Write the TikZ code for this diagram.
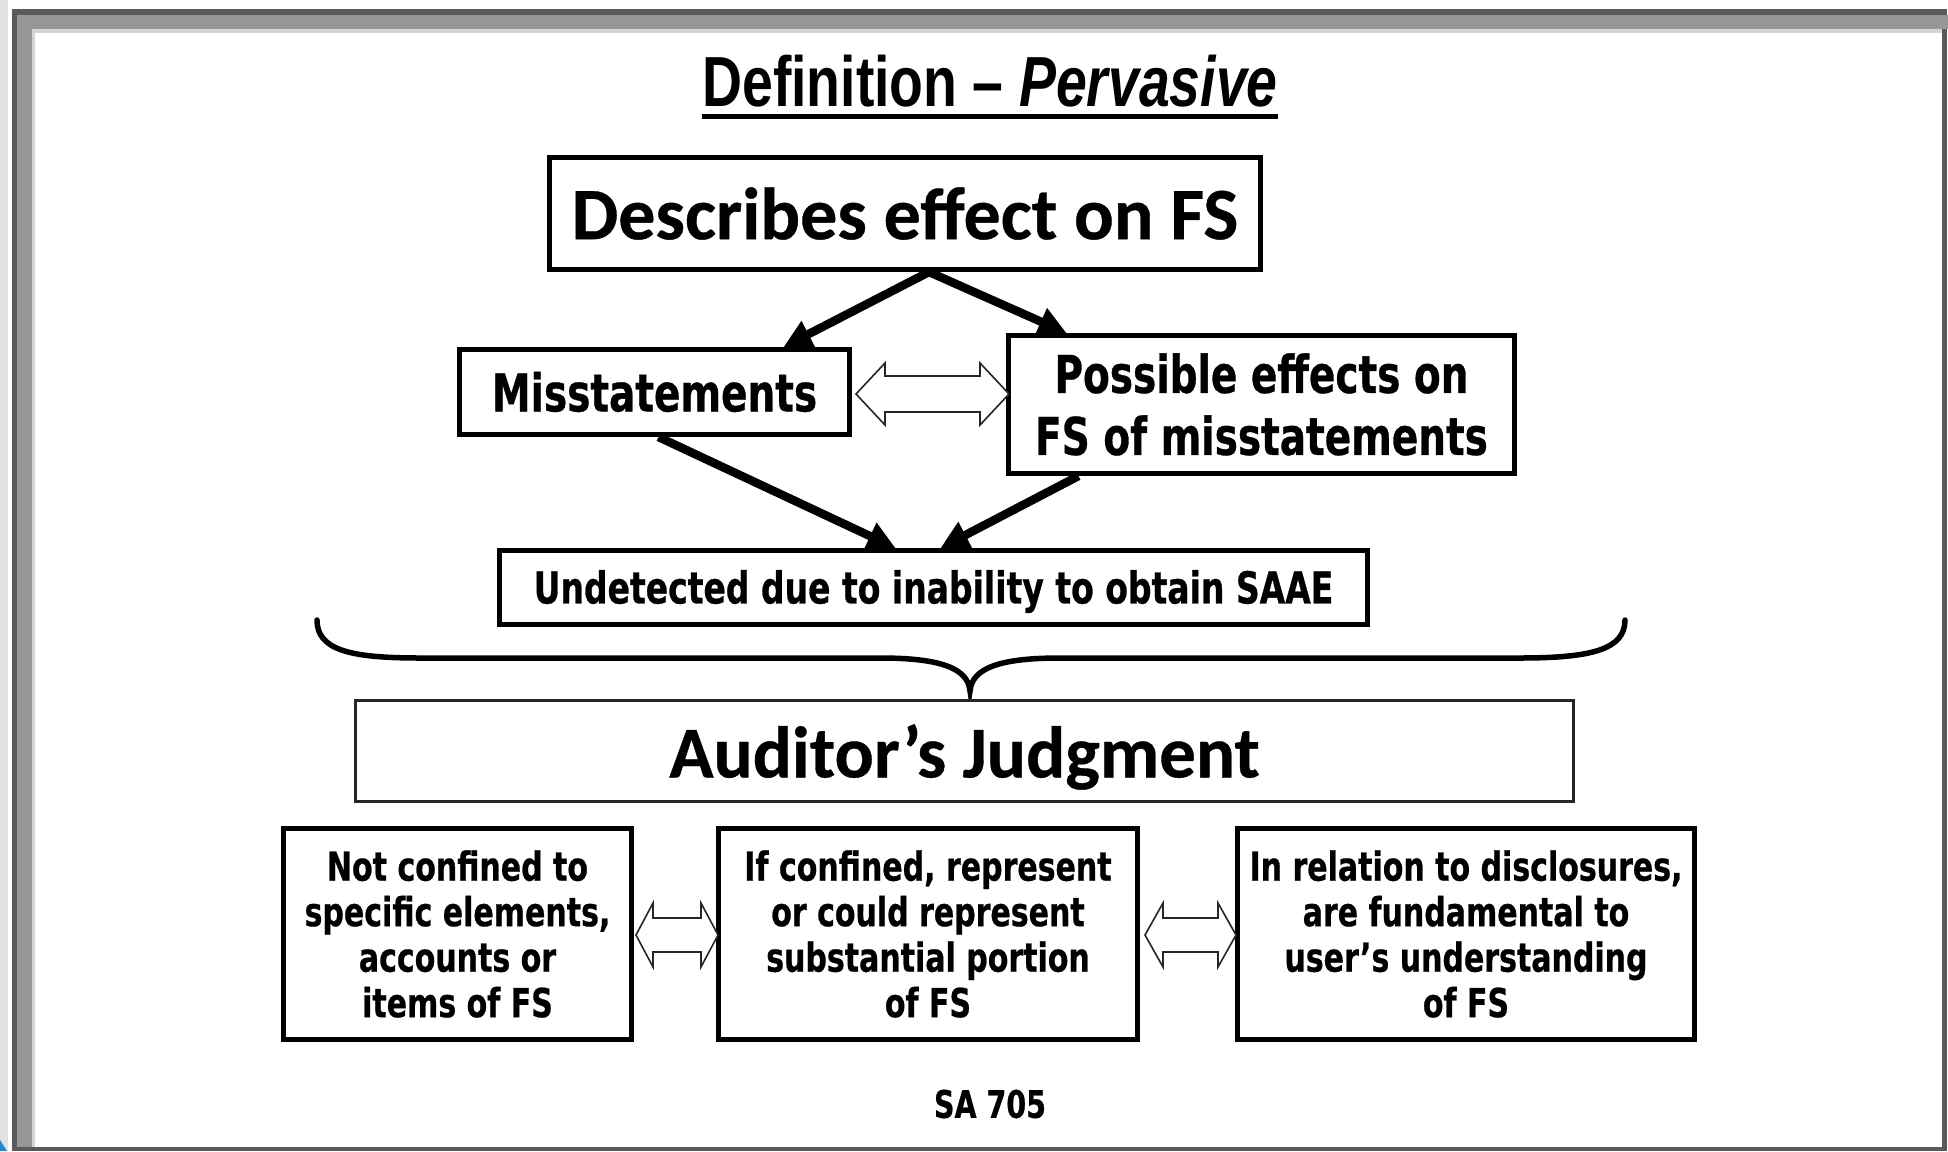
\documentclass[tikz,border=0pt]{standalone}
\usepackage{fontspec}
\usetikzlibrary{arrows.meta,calc}
\newfontfamily\tahfont{DejaVu Sans}[FakeStretch=0.75, BoldFeatures={FakeBold=0.6}]
\newfontfamily\calfont{Carlito}[BoldFeatures={FakeBold=0.5}]
\newfontfamily\narrowfont{Liberation Sans}[FakeStretch=0.78]
\definecolor{framedark}{HTML}{5A5A5A}
\definecolor{framegray}{HTML}{979797}
\definecolor{framelight}{HTML}{D4D4D4}
\definecolor{sidestrip}{HTML}{DFE1E2}
\definecolor{cornerblue}{HTML}{1E88D0}
% lower the ink of a label without changing its box
\newcommand\lowerink[2]{\raisebox{-#1}[\height][\depth]{#2}}
\begin{document}
\begin{tikzpicture}[x=1pt,y=-1pt,
  box/.style={draw=black, line width=5pt, fill=white, inner sep=0pt, align=center,
    font=\tahfont\bfseries},
  flow/.style={line width=8.5pt, -{Triangle[length=28pt,width=28pt]}},
  hollow/.style={draw=black!85, line width=1.6pt, fill=white, line join=miter},
  brace/.style={line width=5.5pt, line cap=round},
  smalltext/.style={font=\tahfont\bfseries\fontsize{40}{45.5}\selectfont}]

% page and slide frame
\fill[white] (0,0) rectangle (1948,1151);
\fill[sidestrip] (0,0) rectangle (8,1151);
\fill[cornerblue] (0,1151) -- (0,1140) -- (7,1151) -- cycle;
\fill[framedark] (12,9) rectangle (1947,1151);
\fill[framegray] (17,15) rectangle (1948,29);
\fill[framegray] (17,15) rectangle (32,1147);
\fill[framelight] (32,29) rectangle (1942,1147);
\fill[white] (35,33) rectangle (1942,1147);

% heading
\node[inner sep=0pt, anchor=base, font=\narrowfont\bfseries\fontsize{71}{80}\selectfont]
  (title) at (990,106) {Definition – \textit{Pervasive}};
\draw[line width=5pt] ($(title.base west)+(0,10)$) -- ($(title.base east)+(0,10)$);

% upper flow
\node[box, minimum width=711pt, minimum height=112pt,
  font=\calfont\bfseries\fontsize{74}{80}\selectfont] (top) at (905,213.5)
  {Describes effect on FS};
\node[box, minimum width=390pt, minimum height=85pt,
  font=\tahfont\bfseries\fontsize{52}{62}\selectfont] (mis) at (654.5,392)
  {Misstatements};
\node[box, minimum width=506pt, minimum height=138pt,
  font=\tahfont\bfseries\fontsize{52}{62}\selectfont] (pos) at (1261.5,404.5)
  {Possible effects on\\FS of misstatements};
\node[box, minimum width=868pt, minimum height=74pt,
  font=\tahfont\bfseries\fontsize{44}{50}\selectfont] (und) at (933.5,587.5)
  {\lowerink{4pt}{Undetected due to inability to obtain SAAE}};

\draw[flow] ($(top.south)+(24,0)$) -- ($(mis.north)+(129,0)$);
\draw[flow] ($(top.south)+(24,0)$) -- ($(pos.north)+(-195,0)$);
\draw[flow] ($(mis.south)+(4,0)$) -- ($(und.north)+(-38,0)$);
\draw[flow] ($(pos.south)+(-183,0)$) -- ($(und.north)+(7,0)$);

% hollow two-way arrow between the middle boxes
\draw[hollow] ($(mis.east)+(4,2)$) -- ++(29,-31) -- ++(0,13) -- ++(95,0) -- ++(0,-13)
  -- ++(29,31) -- ++(-29,31) -- ++(0,-13) -- ++(-95,0) -- ++(0,13) -- cycle;

% brace
\draw[brace] (317,620) .. controls (317,650) and (350,658) .. (420,658) -- (880,658)
  .. controls (940,658) and (968,668) .. (970,691)
  .. controls (972,668) and (1000,658) .. (1060,658) -- (1520,658)
  .. controls (1590,658) and (1625,650) .. (1625,620);

% judgment
\node[draw=black!85, line width=2.5pt, fill=white, inner sep=0pt,
  minimum width=1218pt, minimum height=101pt,
  font=\calfont\bfseries\fontsize{73}{80}\selectfont] (jud) at (964.5,751)
  {\lowerink{6pt}{Auditor’s Judgment}};

% criteria
\node[box, smalltext, minimum width=348pt, minimum height=211pt] (c1) at (457.5,934)
  {Not confined to\\specific elements,\\accounts or\\items of FS};
\node[box, smalltext, minimum width=419pt, minimum height=211pt] (c2) at (928,934)
  {If confined, represent\\or could represent\\substantial portion\\of FS};
\node[box, smalltext, minimum width=457pt, minimum height=211pt] (c3) at (1466,934)
  {In relation to disclosures,\\are fundamental to\\user’s understanding\\of FS};

\draw[hollow] ($(c1.east)+(2,1)$) -- ++(17,-32) -- ++(0,15) -- ++(48,0) -- ++(0,-15)
  -- ++(17,32) -- ++(-17,32) -- ++(0,-15) -- ++(-48,0) -- ++(0,15) -- cycle;
\draw[hollow] ($(c2.east)+(5,1)$) -- ++(18,-32) -- ++(0,15) -- ++(55,0) -- ++(0,-15)
  -- ++(18,32) -- ++(-18,32) -- ++(0,-15) -- ++(-55,0) -- ++(0,15) -- cycle;

% source
\node[inner sep=0pt, font=\tahfont\bfseries\fontsize{38}{44}\selectfont] (src) at (990,1104)
  {SA 705};
\end{tikzpicture}
\end{document}
